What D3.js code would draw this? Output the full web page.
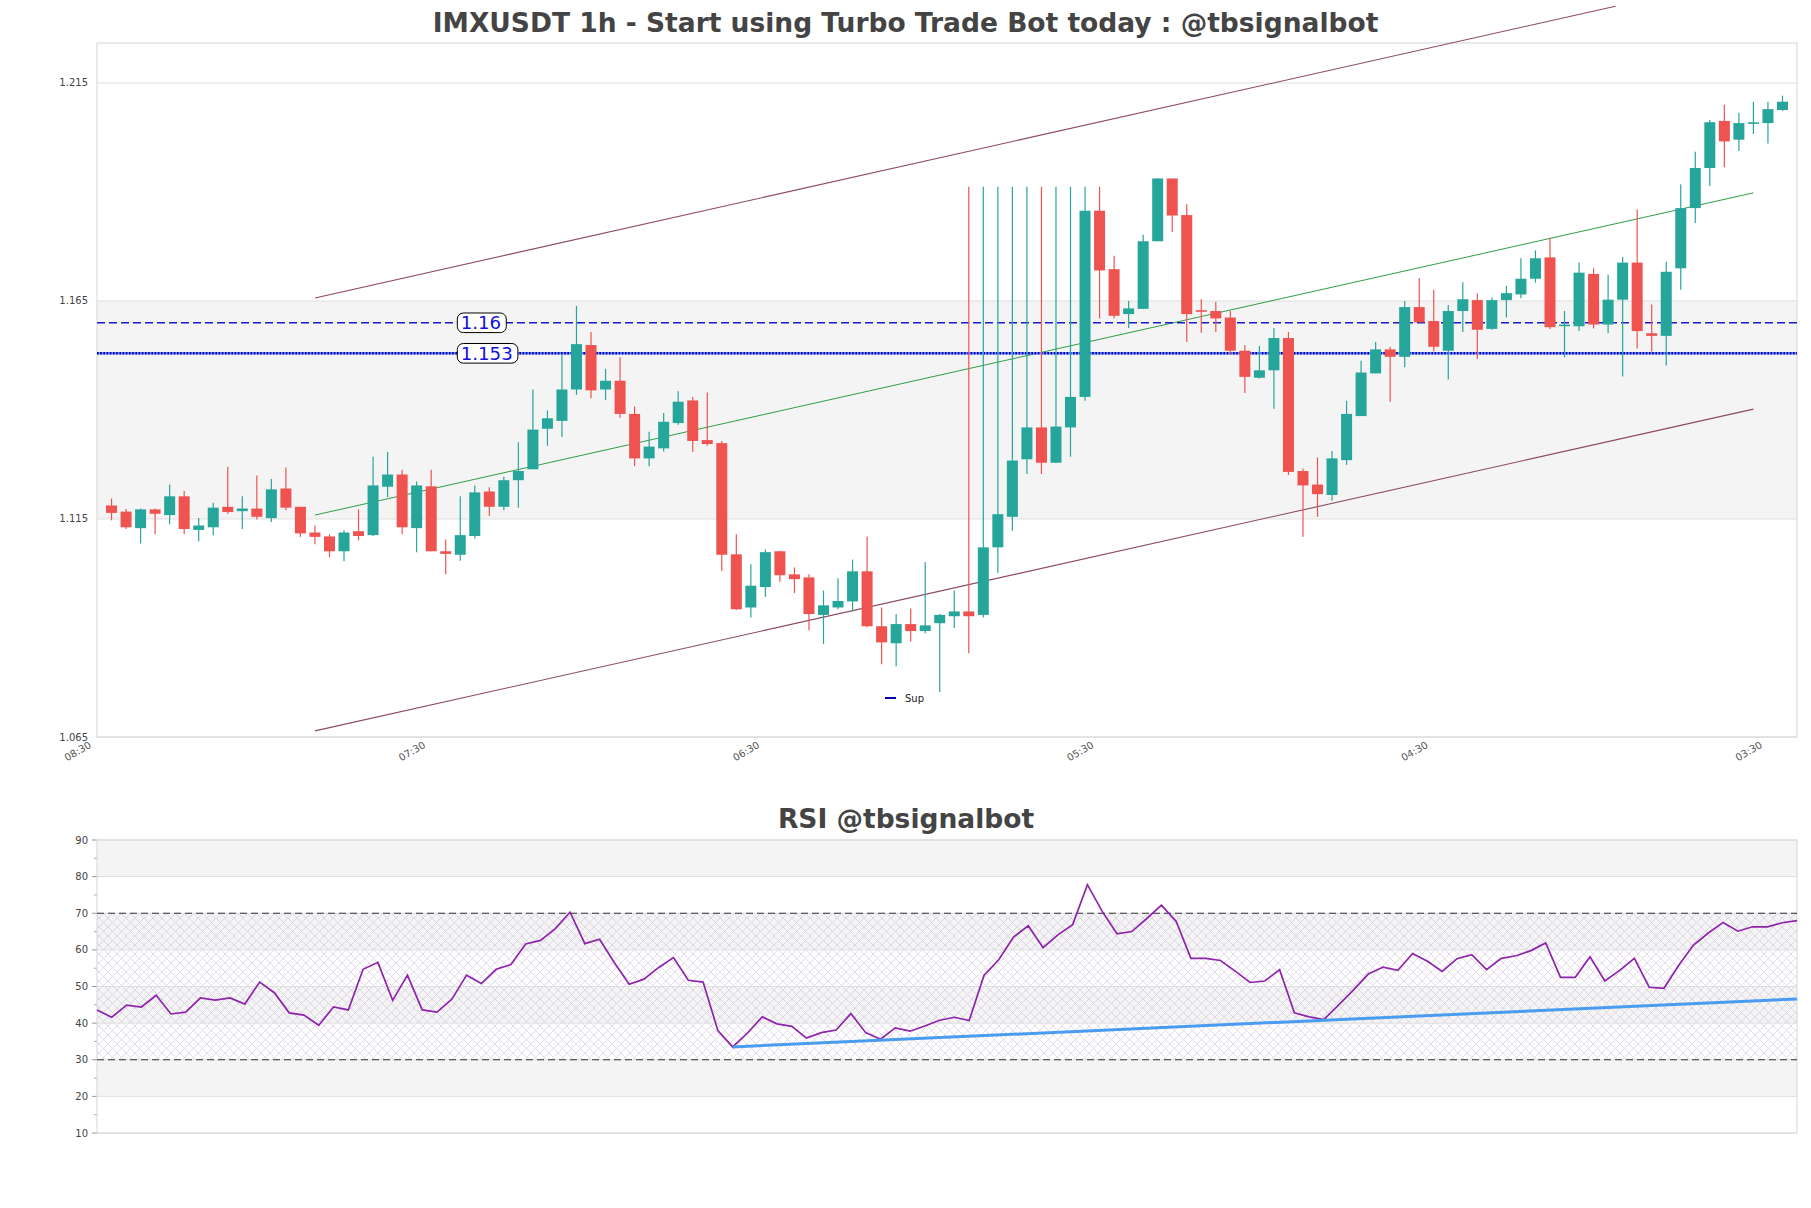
<!DOCTYPE html>
<html><head><meta charset="utf-8">
<script src="https://cdn.jsdelivr.net/npm/d3@7"></script>
<style>body{margin:0;background:#fff} svg{display:block} text{font-family:"DejaVu Sans",sans-serif}</style>
</head><body><svg id="c" width="1811" height="1208"></svg>
<script>
const opens=[1.1181,1.1167,1.1129,1.1172,1.1159,1.1202,1.1125,1.1131,1.1178,1.1168,1.1174,1.1152,1.1220,1.1178,1.1119,1.1110,1.1076,1.1122,1.1113,1.1224,
1.1252,1.1129,1.1225,1.1076,1.1068,1.1111,1.1213,1.1178,1.1239,1.1264,1.1357,1.1375,1.1447,1.1549,1.1447,1.1467,1.1391,1.1289,1.1312,1.1370,
1.1422,1.1331,1.1324,1.1069,1.0947,1.0994,1.1076,1.1023,1.1016,1.0930,1.0947,1.0961,1.1030,1.0904,1.0865,1.0909,1.0893,1.0911,1.0927,1.0938,
1.0930,1.1085,1.1155,1.1287,1.1360,1.1279,1.1360,1.1430,1.1857,1.1723,1.1620,1.1632,1.1787,1.1931,1.1847,1.1628,1.1627,1.1612,1.1536,1.1474,
1.1491,1.1565,1.1260,1.1229,1.1205,1.1285,1.1386,1.1484,1.1539,1.1522,1.1636,1.1604,1.1536,1.1627,1.1652,1.1586,1.1652,1.1665,1.1701,1.1750,
1.1593,1.1592,1.1712,1.1596,1.1653,1.1738,1.1576,1.1570,1.1725,1.1863,1.1955,1.2063,1.2020,1.2057,1.2058,1.2088];
const highs=[1.1197,1.1173,1.1174,1.1174,1.1229,1.1214,1.1152,1.1187,1.1270,1.1202,1.1250,1.1242,1.1268,1.1178,1.1135,1.1115,1.1124,1.1172,1.1293,1.1304,
1.1263,1.1236,1.1263,1.1103,1.1202,1.1227,1.1223,1.1247,1.1326,1.1447,1.1399,1.1528,1.1639,1.1579,1.1494,1.1521,1.1408,1.1350,1.1393,1.1443,
1.1430,1.1440,1.1329,1.1115,1.1046,1.1080,1.1076,1.1039,1.1023,1.0986,1.1014,1.1057,1.1110,1.0947,1.0932,1.0945,1.1051,1.0932,1.0986,1.1912,
1.1912,1.1912,1.1912,1.1912,1.1912,1.1912,1.1912,1.1912,1.1912,1.1754,1.1650,1.1802,1.1931,1.1931,1.1872,1.1654,1.1648,1.1627,1.1549,1.1547,
1.1588,1.1579,1.1266,1.1291,1.1306,1.1421,1.1513,1.1556,1.1545,1.1650,1.1703,1.1676,1.1641,1.1693,1.1667,1.1658,1.1685,1.1748,1.1766,1.1795,
1.1627,1.1738,1.1725,1.1710,1.1751,1.1860,1.1642,1.1740,1.1918,1.1992,1.2065,1.2100,1.2082,1.2107,1.2107,1.2121];
const lows=[1.1147,1.1127,1.1094,1.1115,1.1138,1.1115,1.1099,1.1113,1.1162,1.1127,1.1149,1.1143,1.1170,1.1109,1.1092,1.1062,1.1053,1.1101,1.1111,1.1200,
1.1115,1.1074,1.1076,1.1023,1.1054,1.1105,1.1157,1.1170,1.1176,1.1264,1.1318,1.1338,1.1435,1.1427,1.1423,1.1382,1.1271,1.1271,1.1305,1.1366,
1.1304,1.1318,1.1031,1.0941,1.0924,1.0971,1.1006,1.0980,1.0895,1.0863,1.0943,1.0938,1.0902,1.0817,1.0812,1.0869,1.0888,1.0753,1.0900,1.0842,
1.0924,1.1026,1.1123,1.1253,1.1253,1.1279,1.1293,1.1421,1.1610,1.1610,1.1588,1.1632,1.1787,1.1808,1.1556,1.1577,1.1579,1.1528,1.1439,1.1472,
1.1403,1.1251,1.1109,1.1155,1.1192,1.1274,1.1386,1.1484,1.1419,1.1498,1.1601,1.1534,1.1470,1.1579,1.1517,1.1584,1.1612,1.1656,1.1692,1.1586,
1.1521,1.1581,1.1587,1.1576,1.1477,1.1541,1.1534,1.1502,1.1676,1.1829,1.1914,1.1957,1.1994,1.2033,1.2011,1.2086];
const closes=[1.1164,1.1131,1.1172,1.1162,1.1202,1.1127,1.1135,1.1176,1.1166,1.1174,1.1155,1.1218,1.1176,1.1117,1.1109,1.1076,1.1119,1.1111,1.1227,1.1252,
1.1131,1.1227,1.1076,1.1070,1.1113,1.1211,1.1178,1.1239,1.1260,1.1355,1.1381,1.1447,1.1551,1.1445,1.1467,1.1391,1.1289,1.1316,1.1373,1.1419,
1.1329,1.1322,1.1068,1.0943,1.0997,1.1074,1.1021,1.1012,1.0932,1.0952,1.0962,1.1030,1.0904,1.0867,1.0909,1.0893,1.0906,1.0930,1.0938,1.0927,
1.1085,1.1161,1.1284,1.1360,1.1279,1.1362,1.1430,1.1857,1.1720,1.1616,1.1633,1.1787,1.1931,1.1846,1.1620,1.1626,1.1610,1.1536,1.1476,1.1491,
1.1565,1.1258,1.1227,1.1207,1.1289,1.1391,1.1486,1.1539,1.1522,1.1636,1.1601,1.1545,1.1627,1.1654,1.1584,1.1652,1.1668,1.1701,1.1748,1.1590,
1.1595,1.1715,1.1596,1.1653,1.1738,1.1581,1.1570,1.1717,1.1863,1.1955,1.2060,1.2016,1.2058,1.2059,1.2090,1.2107];
const rsi=[43.6,41.6,44.9,44.4,47.6,42.5,43.0,46.9,46.3,46.9,45.2,51.2,48.3,42.8,42.2,39.4,44.4,43.6,54.7,56.6,
46.2,53.1,43.6,43.0,46.5,53.1,50.8,54.7,56.0,61.6,62.6,65.8,70.3,61.7,62.9,56.5,50.6,52.0,55.2,57.9,
51.7,51.2,38.0,33.5,37.3,41.7,39.8,39.1,35.9,37.4,38.1,42.6,37.4,35.6,38.7,37.8,39.2,40.8,41.6,40.7,
53.0,57.3,63.5,66.6,60.6,64.1,66.9,77.8,70.5,64.4,65.0,68.5,72.2,67.8,57.7,57.7,57.1,54.2,51.1,51.5,
54.6,42.8,41.7,41.0,45.0,49.1,53.4,55.3,54.4,59.0,56.9,54.1,57.6,58.7,54.6,57.7,58.4,59.8,61.9,52.5,
52.5,58.1,51.5,54.4,57.7,49.8,49.5,55.8,61.3,64.6,67.5,65.1,66.3,66.3,67.4,68.0];
const xTickIdx=[-1,22,45,68,91,114];
const xTickLabels=["08:30","07:30","06:30","05:30","04:30","03:30"];
const yTicks=[1.065,1.115,1.165,1.215];
const rsiTicks=[10,20,30,40,50,60,70,80,90];
const levels=[{v:1.16,label:"1.16",style:"dash"},{v:1.153,label:"1.153",style:"dot"}];
const channelUpper=[[14,1.1657],[103.5,1.2326]];
const channelLower=[[14,1.0664],[113,1.1402]];
const channelMid=[[14,1.1159],[113,1.1898]];
const rsiTrend=[[43,33.5],[115,46.6]];

const svg=d3.select("#c");
svg.append("rect").attr("width",1811).attr("height",1208).attr("fill","#fff");
const L=97,R=1797,T=43,B=737;
const x=d3.scaleLinear().domain([-1,116]).range([L,R]);
const y=d3.scaleLinear().domain([1.065,1.22417]).range([B,T]);

// title
svg.append("text").attr("x",905.5).attr("y",32).attr("text-anchor","middle")
  .attr("font-size",26.5).attr("font-weight","bold").attr("fill","#444")
  .text("IMXUSDT 1h - Start using Turbo Trade Bot today : @tbsignalbot");

// bands
svg.append("rect").attr("x",L).attr("y",y(1.165)).attr("width",R-L).attr("height",y(1.115)-y(1.165)).attr("fill","#f4f4f4");
// grid
yTicks.forEach(v=>{
  svg.append("line").attr("x1",L).attr("x2",R).attr("y1",y(v)).attr("y2",y(v)).attr("stroke","#dedede").attr("stroke-width",1);
  svg.append("text").attr("x",88).attr("y",y(v)+3.5).attr("text-anchor","end").attr("font-size",10).attr("fill","#444").text(v.toFixed(3));
});
svg.append("rect").attr("x",L).attr("y",T).attr("width",R-L).attr("height",B-T).attr("fill","none").attr("stroke","#d6d6d6");

// x labels
xTickIdx.forEach((t,i)=>{
  svg.append("text").attr("transform",`translate(${x(t)-5},747) rotate(-30)`).attr("text-anchor","end")
   .attr("font-size",10).attr("fill","#555").text(xTickLabels[i]);
});

// channel lines
const ln=d3.line().x(d=>x(d[0])).y(d=>y(d[1]));
svg.append("path").attr("d",ln(channelUpper)).attr("stroke","#8c4a5c").attr("stroke-width",1.1).attr("fill","none");
svg.append("path").attr("d",ln(channelLower)).attr("stroke","#8c4a5c").attr("stroke-width",1.1).attr("fill","none");
svg.append("path").attr("d",ln(channelMid)).attr("stroke","#2f9e48").attr("stroke-width",1).attr("fill","none");

// levels
levels.forEach(l=>{
  if(l.style==="dash"){
    svg.append("line").attr("x1",L).attr("x2",R).attr("y1",y(l.v)).attr("y2",y(l.v)).attr("stroke","#1a1acc").attr("stroke-width",1.5).attr("stroke-dasharray","8,4");
  } else {
    svg.append("line").attr("x1",L).attr("x2",R).attr("y1",y(l.v)).attr("y2",y(l.v)).attr("stroke","#6d8cff").attr("stroke-width",2.4);
    svg.append("line").attr("x1",L).attr("x2",R).attr("y1",y(l.v)).attr("y2",y(l.v)).attr("stroke","#0000b0").attr("stroke-width",2.4).attr("stroke-dasharray","1.6,1.6");
  }
});

// candles
const bw=11;
const g=svg.append("g");
opens.forEach((o,i)=>{
  const c=closes[i], up=c>=o, col=up?"#26a69a":"#ef5350";
  const cx=x(i);
  g.append("line").attr("x1",cx).attr("x2",cx).attr("y1",y(highs[i])).attr("y2",y(lows[i])).attr("stroke",col).attr("stroke-width",1.2);
  const yt=y(Math.max(o,c)), yb=y(Math.min(o,c));
  const h=Math.max(yb-yt,1.6);
  g.append("rect").attr("x",cx-bw/2).attr("y",(yt+yb)/2-h/2).attr("width",bw).attr("height",h).attr("fill",col);
});

// level labels
const lblG=svg.append("g");
levels.forEach(l=>{
  const tx=457.3;
  const box=lblG.append("rect");
  const t=lblG.append("text").attr("x",tx+3.4).attr("y",y(l.v)+6.2).attr("font-size",18.2).attr("fill","#1010e0").text(l.label);
  const w=t.node().getComputedTextLength();
  box.attr("x",tx).attr("y",y(l.v)-9.8).attr("width",w+8.5).attr("height",19.6).attr("rx",6)
    .attr("fill","#fff").attr("stroke","#000").attr("stroke-width",1);
});

// legend
svg.append("line").attr("x1",885).attr("x2",896).attr("y1",698).attr("y2",698).attr("stroke","#0000aa").attr("stroke-width",2);
svg.append("text").attr("x",905).attr("y",701.5).attr("font-size",10).attr("fill","#222").text("Sup");

// RSI panel
const RT=840,RB=1133;
const rx=d3.scaleLinear().domain([0,115]).range([L,R]);
const ry=d3.scaleLinear().domain([10,90]).range([RB,RT]);
svg.append("text").attr("x",906).attr("y",828).attr("text-anchor","middle").attr("font-size",26.5).attr("font-weight","bold").attr("fill","#444").text("RSI @tbsignalbot");
const defs=svg.append("defs");
const pat=defs.append("pattern").attr("id","hx").attr("patternUnits","userSpaceOnUse").attr("width",9).attr("height",9);
pat.append("path").attr("d","M0,0L9,9M9,0L0,9M-1,8L1,10M8,-1L10,1").attr("stroke","#c7b6d6").attr("stroke-width",0.6).attr("opacity",0.8);
[[80,90],[60,70],[40,50],[20,30]].forEach(b=>{
  svg.append("rect").attr("x",L).attr("y",ry(b[1])).attr("width",R-L).attr("height",ry(b[0])-ry(b[1])).attr("fill","#f4f4f4");
});
svg.append("rect").attr("x",L).attr("y",ry(70)).attr("width",R-L).attr("height",ry(30)-ry(70)).attr("fill","url(#hx)");
rsiTicks.forEach(v=>{
  svg.append("line").attr("x1",L).attr("x2",R).attr("y1",ry(v)).attr("y2",ry(v)).attr("stroke","#dedede");
  svg.append("line").attr("x1",L-5).attr("x2",L).attr("y1",ry(v)).attr("y2",ry(v)).attr("stroke","#999");
  svg.append("text").attr("x",88).attr("y",ry(v)+3.5).attr("text-anchor","end").attr("font-size",10).attr("fill","#444").text(v);
  if(v<90) svg.append("line").attr("x1",L-3).attr("x2",L).attr("y1",ry(v+5)).attr("y2",ry(v+5)).attr("stroke","#aaa");
});
svg.append("rect").attr("x",L).attr("y",RT).attr("width",R-L).attr("height",RB-RT).attr("fill","none").attr("stroke","#d6d6d6");
[30,70].forEach(v=>{
  svg.append("line").attr("x1",L).attr("x2",R).attr("y1",ry(v)).attr("y2",ry(v)).attr("stroke","#333").attr("stroke-width",1.1).attr("stroke-dasharray","7,4");
});
svg.append("path").attr("d",d3.line().x((d,i)=>rx(i)).y(d=>ry(d))(rsi)).attr("fill","none").attr("stroke","#8e24aa").attr("stroke-width",1.7);
svg.append("path").attr("d",d3.line().x(d=>rx(d[0])).y(d=>ry(d[1]))(rsiTrend)).attr("fill","none").attr("stroke","#4a9cf0").attr("stroke-width",3);
</script></body></html>
